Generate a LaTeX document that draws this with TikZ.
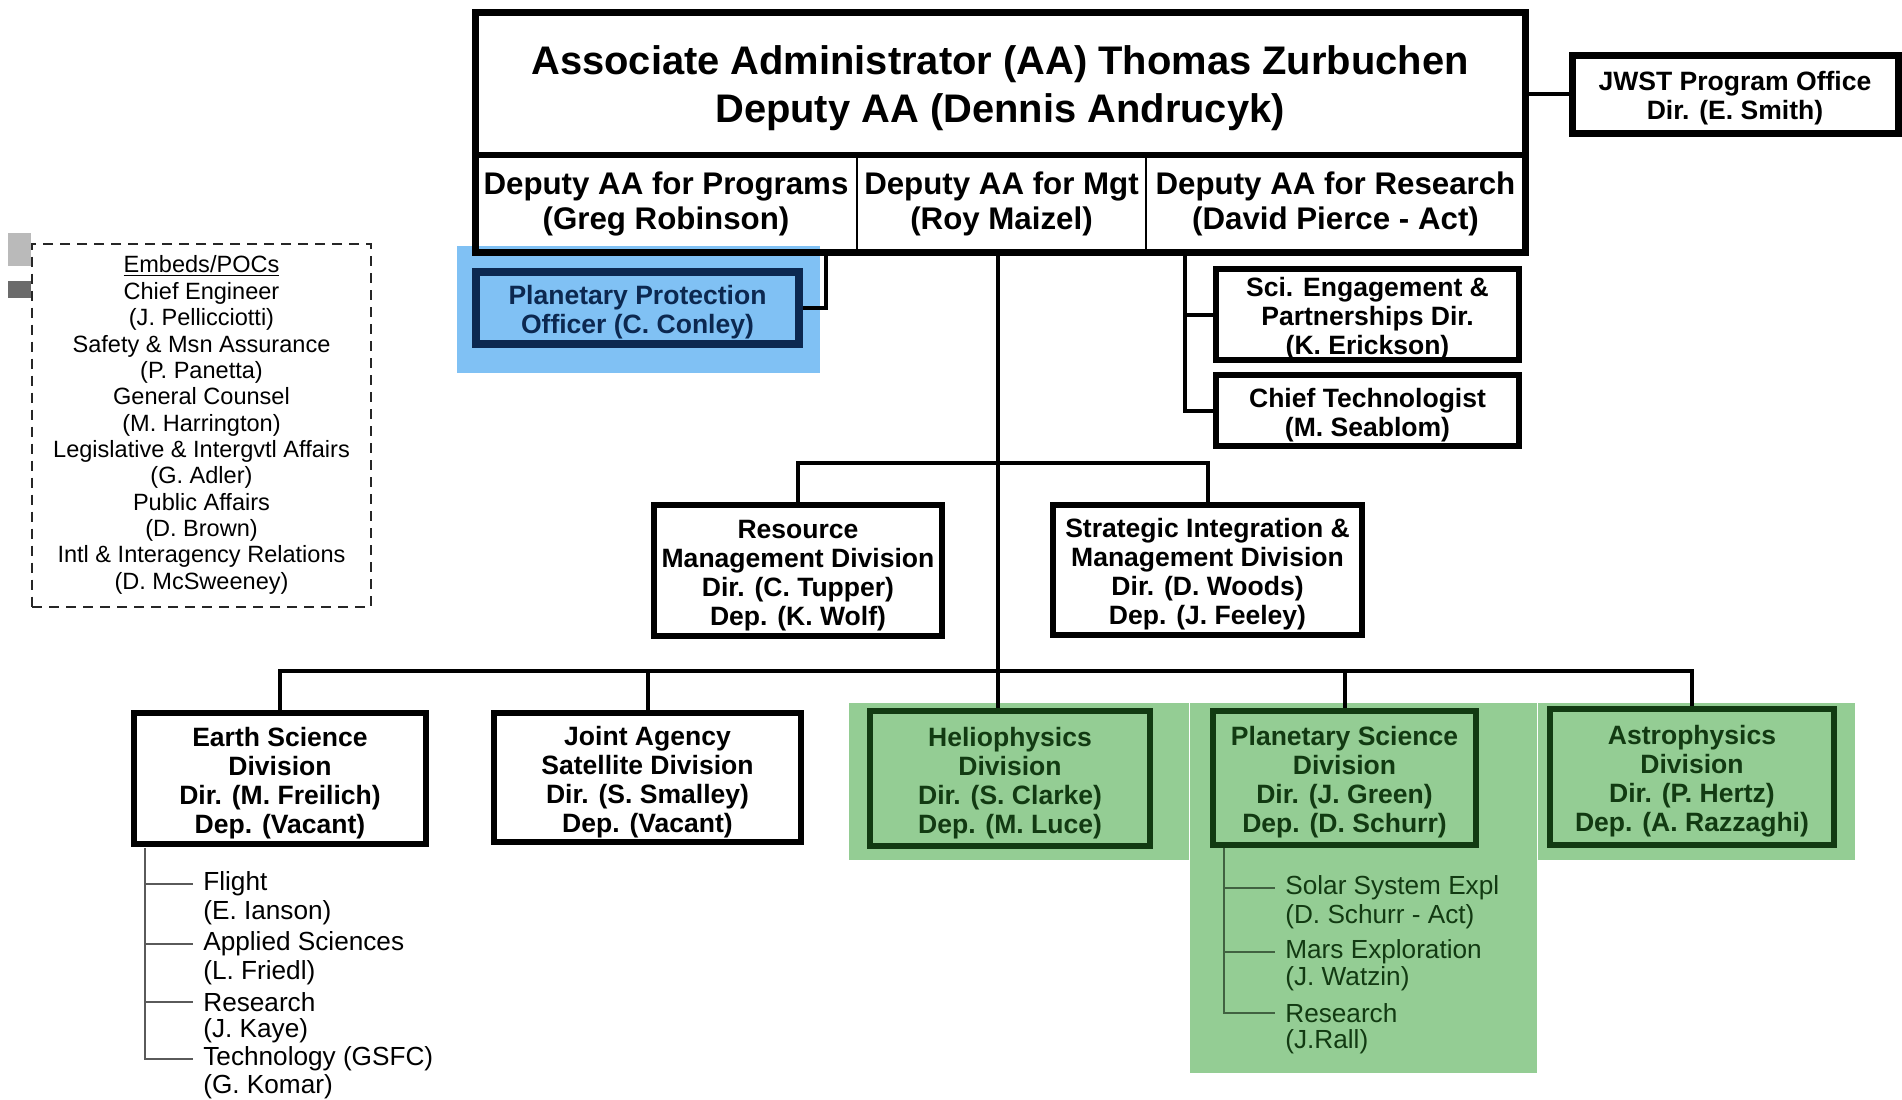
\documentclass[tikz,border=0pt]{standalone}
\usepackage{fontspec}
\setmainfont{Liberation Sans}
\usetikzlibrary{positioning}
\newlength{\du}
\setlength{\du}{0.02cm}
\definecolor{hiblue}{RGB}{128,193,244}
\definecolor{hibluedark}{RGB}{12,40,80}
\definecolor{higreen}{RGB}{148,205,148}
\definecolor{higreendark}{RGB}{18,58,18}
\definecolor{subgray}{RGB}{90,90,90}
\newcommand{\lift}[1][1.05em]{\rule{0pt}{#1}}

\begin{document}
\begin{tikzpicture}[
  cellbox/.style={draw=black, line width=2\du, minimum height=97\du, inner sep=0pt, outer sep=0pt,
    align=center, font=\fontsize{17.8}{19.9}\selectfont\bfseries},
  divbox/.style={draw=black, line width=6\du, fill=white, align=center, inner sep=0pt,
    font=\fontsize{15.1}{16.5}\selectfont\bfseries},
  bluebox/.style={divbox, draw=hibluedark, fill=none, text=hibluedark, line width=8\du},
  greenbox/.style={divbox, draw=higreendark, fill=none, text=higreendark},
  wire/.style={draw=black, line width=4\du},
  subwire/.style={draw=subgray, line width=2\du},
  subtext/.style={anchor=west, inner xsep=10\du, inner ysep=0pt, font=\fontsize{14.9}{17}\selectfont}
]
\pgftransformxscale{1.000000}
\pgftransformyscale{-1.000000}
\useasboundingbox (0\du,0\du) rectangle (1902\du,1099\du);
% highlights
\fill[hiblue] (457\du,246\du) rectangle (820\du,373\du);
\fill[higreen] (849\du,703\du) rectangle (1189\du,860\du);
\fill[higreen] (1190\du,703\du) rectangle (1537\du,1073\du);
\fill[higreen] (1538\du,703\du) rectangle (1855\du,860\du);
\fill[black!27] (8\du,233\du) rectangle (31\du,266\du);
\fill[black!58] (8\du,281\du) rectangle (31\du,298\du);
% front office
\node[inner sep=0pt, outer sep=0pt, minimum width=1050\du, minimum height=143\du, align=center,
  font=\fontsize{22.7}{27.6}\selectfont\bfseries] (aa) at (1000\du,83.5\du)
  {\lift[0.97em]Associate Administrator (AA) Thomas Zurbuchen\\Deputy AA (Dennis Andrucyk)};
\node[cellbox, minimum width=382\du] (dprog) at (666\du,203.5\du) {Deputy AA for Programs\\(Greg Robinson)};
\node[cellbox, minimum width=289\du] (dmgt) at (1001.5\du,203.5\du) {Deputy AA for Mgt\\(Roy Maizel)};
\node[cellbox, minimum width=379\du] (dres) at (1335.5\du,203.5\du) {Deputy AA for Research\\(David Pierce - Act)};
\draw[line width=7\du] (aa.north west) rectangle (dres.south east);
\draw[line width=6\du] (aa.south west) -- (aa.south east);
\node[divbox, line width=7\du, minimum width=326\du, minimum height=78\du] (jwst) at (1735\du,94\du)
  {\lift JWST Program Office\\Dir. (E. Smith)};
\draw[wire] (aa.east |- jwst.west) -- (jwst.west);
% embeds
\node[draw=black!85, line width=2\du, dash pattern=on 10\du off 7\du, minimum width=339\du, minimum height=363\du,
  inner sep=0pt, align=center, font=\fontsize{13.4}{15}\selectfont] (embeds) at (201.5\du,425\du)
  {\underline{Embeds/POCs}\\Chief Engineer\\(J. Pellicciotti)\\Safety \& Msn Assurance\\(P. Panetta)\\General Counsel\\(M. Harrington)\\Legislative \& Intergvtl Affairs\\(G. Adler)\\Public Affairs\\(D. Brown)\\Intl \& Interagency Relations\\(D. McSweeney)};
% staff
\node[bluebox, minimum width=323\du, minimum height=72\du] (ppo) at (637.5\du,308\du)
  {\lift Planetary Protection\\Officer (C. Conley)};
\coordinate (ppoup) at (826\du,252\du);
\draw[wire] (ppo.east) -| (ppoup);
\node[divbox, minimum width=303\du, minimum height=85\du] (sci) at (1367.5\du,314.5\du)
  {\lift Sci. Engagement \&\\Partnerships Dir.\\(K. Erickson)};
\node[divbox, minimum width=303\du, minimum height=71\du] (chief) at (1367.5\du,410.5\du)
  {\lift Chief Technologist\\(M. Seablom)};
\coordinate (rbr) at (1185\du,252\du);
\draw[wire] (rbr) |- (chief.west);
\draw[wire] (rbr |- sci.west) -- (sci.west);
% management divisions
\node[divbox, minimum width=288\du, minimum height=131\du] (rmd) at (798\du,570.5\du)
  {\lift Resource\\Management Division\\Dir. (C. Tupper)\\Dep. (K. Wolf)};
\node[divbox, minimum width=309\du, minimum height=130\du] (simd) at (1207.5\du,570\du)
  {\lift Strategic Integration \&\\Management Division\\Dir. (D. Woods)\\Dep. (J. Feeley)};
% science divisions
\node[divbox, minimum width=292\du, minimum height=131\du] (esd) at (280\du,778.5\du)
  {\lift Earth Science\\Division\\Dir. (M. Freilich)\\Dep. (Vacant)};
\node[divbox, minimum width=307\du, minimum height=129\du] (jasd) at (647.5\du,777.5\du)
  {\lift Joint Agency\\Satellite Division\\Dir. (S. Smalley)\\Dep. (Vacant)};
\node[greenbox, minimum width=280\du, minimum height=135\du] (hpd) at (1010\du,778.5\du)
  {\lift Heliophysics\\Division\\Dir. (S. Clarke)\\Dep. (M. Luce)};
\node[greenbox, minimum width=263\du, minimum height=134\du] (psd) at (1344.5\du,778\du)
  {\lift Planetary Science\\Division\\Dir. (J. Green)\\Dep. (D. Schurr)};
\node[greenbox, minimum width=284\du, minimum height=136\du] (apd) at (1692\du,777\du)
  {\lift Astrophysics\\Division\\Dir. (P. Hertz)\\Dep. (A. Razzaghi)};
% trunk and buses
\coordinate (trunk) at (998\du,252\du);
\coordinate (bus1) at (998\du,463\du);
\coordinate (bus2) at (998\du,671\du);
\draw[wire] (trunk) -- (bus2);
\draw[wire] (rmd.north) |- (bus1) -| (simd.north);
\draw[wire] (esd.north) |- (bus2) -| (apd.north);
\draw[wire] (jasd.north) -- (jasd.north |- bus2);
\draw[wire] (psd.north) -- (psd.north |- bus2);
\draw[wire] (bus2) -- (bus2 |- hpd.north);
% earth science branches
\node[subtext] (flight) at (193\du,884\du) {Flight};
\node[subtext] (ianson) at (193\du,913\du) {(E. Ianson)};
\node[subtext] (applied) at (193\du,944\du) {Applied Sciences};
\node[subtext] (friedl) at (193\du,973\du) {(L. Friedl)};
\node[subtext] (research) at (193\du,1002\du) {Research};
\node[subtext] (kaye) at (193\du,1031\du) {(J. Kaye)};
\node[subtext] (technology) at (193\du,1059\du) {Technology (GSFC)};
\node[subtext] (komar) at (193\du,1087\du) {(G. Komar)};
\coordinate (esub) at (145\du,848\du);
\draw[subwire] (esub) |- (technology.west);
\draw[subwire] (esub |- flight.west) -- (flight.west);
\draw[subwire] (esub |- applied.west) -- (applied.west);
\draw[subwire] (esub |- research.west) -- (research.west);
% planetary science branches
\node[subtext, text=higreendark] (solar) at (1275\du,888\du) {Solar System Expl};
\node[subtext, text=higreendark] (schurr) at (1275\du,917\du) {(D. Schurr - Act)};
\node[subtext, text=higreendark] (mars) at (1275\du,952\du) {Mars Exploration};
\node[subtext, text=higreendark] (watzin) at (1275\du,979\du) {(J. Watzin)};
\node[subtext, text=higreendark] (psresearch) at (1275\du,1013\du) {Research};
\node[subtext, text=higreendark] (rall) at (1275\du,1042\du) {(J.Rall)};
\coordinate (psub) at (1224\du,848\du);
\draw[subwire, draw=higreendark!80] (psub) |- (psresearch.west);
\draw[subwire, draw=higreendark!80] (psub |- solar.west) -- (solar.west);
\draw[subwire, draw=higreendark!80] (psub |- mars.west) -- (mars.west);
\end{tikzpicture}
\end{document}
